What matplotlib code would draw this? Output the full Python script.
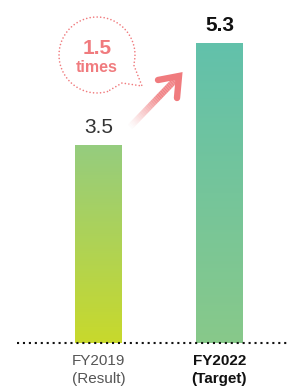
import numpy as np
import matplotlib
matplotlib.use("Agg")
import matplotlib.pyplot as plt
from matplotlib.colors import LinearSegmentedColormap

plt.rcParams['font.family'] = ['Liberation Sans', 'DejaVu Sans']

categories = ["FY2019\n(Result)", "FY2022\n(Target)"]
values = [3.5, 5.3]
value_labels = ["3.5", "5.3"]
ratio_label = "1.5"
ratio_unit = "times"

W, H = 287, 388
fig = plt.figure(figsize=(W / 100, H / 100), dpi=100)

base_px = 343
ppu = 56.6
ax = fig.add_axes([0, (H - base_px) / H, 1, base_px / H])
x = np.arange(len(values))
ax.axis('off')

bar_w = 47 / 121
grads = [("#c8d92c", "#95cc7f"), ("#88c98a", "#62c1ab")]
bars = ax.bar(x, values, width=bar_w, color='none', edgecolor='none')
for b, (c0, c1) in zip(bars, grads):
    cmap = LinearSegmentedColormap.from_list("g", [c0, c1])
    x0, y0 = b.get_x(), b.get_y()
    grad = np.linspace(0, 1, 256).reshape(-1, 1)
    im = ax.imshow(grad, cmap=cmap, origin='lower', aspect='auto',
                   extent=[x0, x0 + b.get_width(), y0, y0 + b.get_height()], zorder=2)
    im.set_clip_path(b)

ax.set_xlim(-98.5 / 121, (W - 98.5) / 121)
ax.set_ylim(0, base_px / ppu)

# value labels
ax.text(x[0], values[0] + 0.14, value_labels[0], ha='center', va='bottom',
        fontsize=15, color='#333333')
ax.text(x[1], values[1] + 0.14, value_labels[1], ha='center', va='bottom',
        fontsize=15, color='#111111', fontweight='bold')

# baseline
ax.plot([-0.67, (W - 98.5) / 121], [0, 0], color='#111111', lw=1.5,
        dashes=(1.0, 1.85), solid_capstyle='butt', dash_capstyle='butt',
        clip_on=False, zorder=3)

# category labels
ax.text(x[0], -0.19, categories[0], ha='center', va='top', fontsize=11,
        color='#555555', linespacing=1.4, clip_on=False)
ax.text(x[1], -0.19, categories[1], ha='center', va='top', fontsize=11,
        color='#111111', fontweight='bold', linespacing=1.4, clip_on=False)

# overlay in pixel coordinates for decorations
ov = fig.add_axes([0, 0, 1, 1], facecolor='none')
ov.set_xlim(0, W)
ov.set_ylim(H, 0)
ov.axis('off')

pink = '#f07b7e'
# speech bubble (dotted)
cx, cy, r = 97, 55, 38
ang = np.deg2rad(np.linspace(74, 375, 400))
px = cx + r * np.cos(ang)
py = cy + r * np.sin(ang)
bx = np.concatenate([px, [142, 122, px[0]]])
by = np.concatenate([py, [86, 83, py[0]]])
ov.plot(bx, by, color=pink, lw=1.2, dashes=(0.01, 2.1), dash_capstyle='round',
        solid_capstyle='round')
ov.text(cx, 48, ratio_label, ha='center', va='center', fontsize=15,
        fontweight='bold', color=pink)
ov.text(cx, 67, ratio_unit, ha='center', va='center', fontsize=11.5,
        fontweight='bold', color=pink)

# arrow with fading tail
tx, ty = 129, 128
hx, hy = 179, 76
n = 70
ts = np.linspace(0, 1, n + 1)
for i in range(n):
    t0, t1 = ts[i], ts[i + 1]
    a = min(1.0, (t0 / 0.6)) ** 1.3
    ov.plot([tx + (hx - tx) * t0, tx + (hx - tx) * t1],
            [ty + (hy - ty) * t0, ty + (hy - ty) * t1],
            color=pink, alpha=a, lw=4.6, solid_capstyle='butt')
ov.plot([158, hx, 177], [80, hy, 98], color=pink, lw=4.6,
        solid_capstyle='round', solid_joinstyle='miter')

fig.savefig("out.png", dpi=100)
